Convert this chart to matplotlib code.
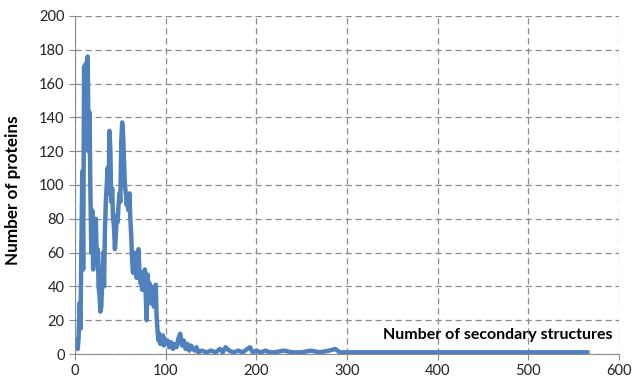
import matplotlib.pyplot as plt

# Number of proteins per number of secondary structures
structures = [1, 2, 3, 4, 5, 6, 7, 8, 9, 10, 11, 12, 13, 14, 15, 16, 17, 18, 19, 20,
              21, 22, 23, 24, 25, 26, 27, 28, 29, 30, 31, 32, 33, 34, 35, 36, 37, 38, 39, 40,
              41, 42, 43, 44, 45, 46, 47, 48, 49, 50, 51, 52, 53, 54, 55, 56, 57, 58, 59, 60,
              61, 62, 63, 64, 65, 66, 67, 68, 69, 70, 71, 72, 73, 74, 75, 76, 77, 78, 79, 80,
              81, 82, 83, 84, 85, 86, 87, 88, 89, 90, 91, 92, 93, 94, 95, 96, 97, 98, 99, 100,
              102, 104, 106, 108, 110, 112, 114, 116, 118, 120, 122, 124, 126, 128, 130,
              132, 134, 136, 140, 145, 150, 155, 160, 163, 166, 170, 175, 180, 185, 190,
              193, 196, 200, 205, 210, 215, 220, 230, 240, 250, 260, 270, 280, 287, 292,
              300, 565]
proteins = [8, 5, 3, 10, 30, 15, 60, 108, 50, 170, 150, 172, 160, 176, 120, 143, 95, 60, 85, 50,
            78, 65, 80, 55, 62, 40, 35, 25, 28, 45, 60, 40, 73, 90, 100, 110, 95, 132, 120, 90,
            98, 80, 75, 62, 70, 82, 78, 88, 95, 90, 125, 137, 130, 115, 100, 95, 88, 92, 85, 95,
            80, 70, 55, 48, 60, 50, 55, 45, 60, 62, 50, 42, 48, 38, 45, 40, 50, 35, 20, 47,
            38, 42, 30, 40, 32, 35, 28, 36, 41, 22, 14, 8, 12, 6, 10, 7, 11, 5, 9, 6,
            8, 4, 7, 3, 6, 4, 9, 12, 5, 8, 3, 6, 2, 5, 3,
            2, 4, 1, 2, 1, 2, 1, 3, 1, 4, 2, 1, 2, 1, 3,
            4, 1, 2, 1, 2, 1, 1, 2, 1, 1, 2, 1, 2, 3, 1,
            1, 1]

plt.rcParams['font.family'] = ['Lato', 'DejaVu Sans']

fig = plt.figure(figsize=(6.33, 3.88), dpi=100)
ax = fig.add_axes([0.1185, 0.0876, 0.8595, 0.8714])

ax.plot(structures, proteins, color='#4F81BD', linewidth=3.2, solid_joinstyle='round')

ax.set_xlim(0, 600)
ax.set_ylim(0, 200)
ax.set_xticks(range(0, 601, 100))
ax.set_yticks(range(0, 201, 20))
ax.grid(True, color='#8C8C8C', linestyle=(0, (5, 3)), linewidth=0.9)
ax.set_axisbelow(True)

for side in ['top', 'right']:
    ax.spines[side].set_visible(False)
for side in ['left', 'bottom']:
    ax.spines[side].set_color('#8C8C8C')
ax.tick_params(direction='out', length=4, color='#8C8C8C', labelsize=10.5, labelcolor='#222222')

ax.set_ylabel('Number of proteins', fontsize=12.3, fontweight='bold')
ax.yaxis.set_label_coords(-0.1, 0.485)
ax.text(0.987, 0.035, 'Number of secondary structures', transform=ax.transAxes,
        ha='right', va='bottom', fontsize=11.5, fontweight='bold')

fig.savefig('out.png', dpi=100)
